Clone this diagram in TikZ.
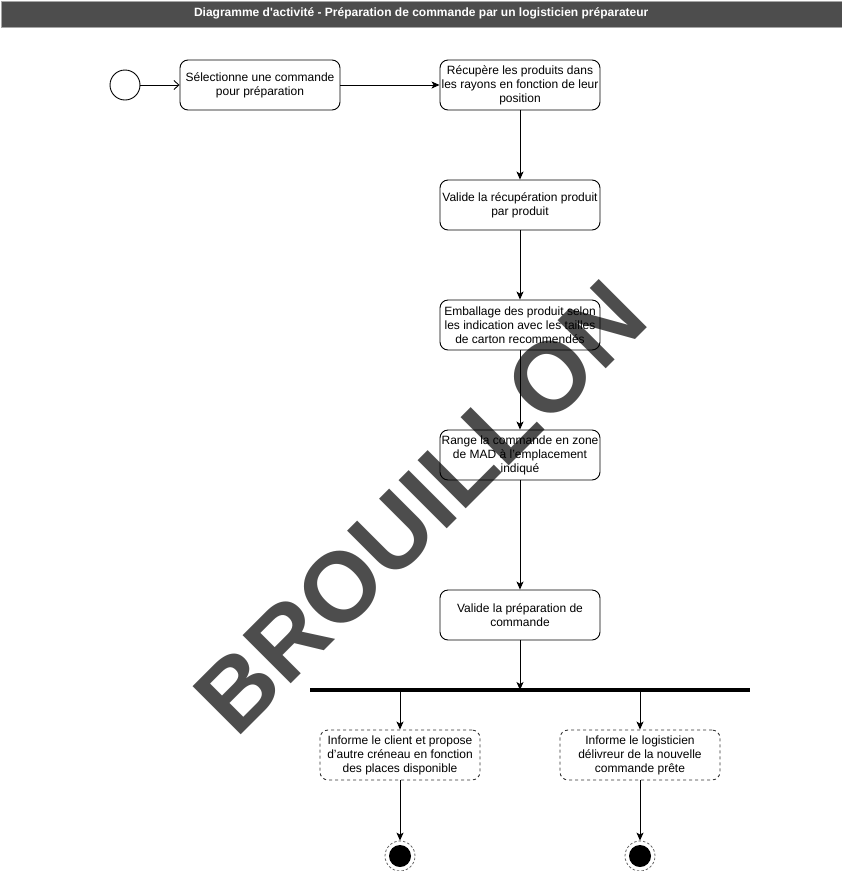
\documentclass[tikz,border=0pt]{standalone}
\usepackage{fontspec}
\setmainfont{Liberation Sans}
\newfontfamily\titlefont{Liberation Sans}
\usetikzlibrary{arrows.meta}
\definecolor{wm}{HTML}{4D4D4D}
\tikzset{
  act/.style={draw=black, line width=0.9pt, rounded corners=8pt, minimum width=160pt, minimum height=50pt, inner sep=0pt, align=center, font=\fontsize{12}{14}\selectfont},
  actdash/.style={act, draw=black!80, dash pattern=on 3pt off 3pt},
  flow/.style={draw=black, line width=0.9pt, -{Stealth[length=8pt,width=7pt,inset=2pt]}},
  openflow/.style={draw=black, line width=0.9pt, -{Straight Barb[length=5pt,width=9pt]}},
}
\begin{document}
\begin{tikzpicture}[x=1pt,y=-1pt]
\useasboundingbox (0,0) rectangle (842,871);
% title
\node[draw=gray!70, fill=wm, minimum width=841pt, minimum height=26pt, inner sep=0pt, anchor=north west, text=white, font=\titlefont\bfseries\fontsize{12}{14}\selectfont] (title) at (0.5,0.5) {Diagramme d'activité - Préparation de commande par un logisticien préparateur};
% watermark
\node[rotate=45, inner sep=0pt, text=wm, font=\bfseries\fontsize{99}{99}\selectfont] (wmark) at (420,507) {BROUILLON};
% start
\node[draw=black, line width=0.9pt, circle, minimum size=30pt, inner sep=0pt] (start) at (125,85) {};
% actions
\node[act] (a1) at (260,85) {Sélectionne une commande\\pour préparation};
\node[act] (a2) at (520,85) {Récupère les produits dans\\les rayons en fonction de leur\\position};
\node[act] (a3) at (520,205) {Valide la récupération produit\\par produit};
\node[act] (a4) at (520,325) {Emballage des produit selon\\les indication avec les tailles\\de carton recommendés};
\node[act] (a5) at (520,455) {Range la commande en zone\\de MAD à l'emplacement\\indiqué};
\node[act] (a6) at (520,615) {Valide la préparation de\\commande};
% fork
\node[fill=black, minimum width=440pt, minimum height=3.5pt, inner sep=0pt] (fork) at (530,690) {};
\coordinate (f1) at (400,690);
\coordinate (f2) at (640,690);
\coordinate (f0) at (520,690);
\node[actdash] (d1) at (400,755) {Informe le client et propose\\d'autre créneau en fonction\\des places disponible};
\node[actdash] (d2) at (640,755) {Informe le logisticien\\délivreur de la nouvelle\\commande prête};
% ends
\node[draw=black!60, dash pattern=on 2.5pt off 2pt, line width=0.8pt, circle, minimum size=30pt, inner sep=0pt] (e1) at (400,856) {};
\node[fill=black, circle, minimum size=22pt, inner sep=0pt] at (e1) {};
\node[draw=black!60, dash pattern=on 2.5pt off 2pt, line width=0.8pt, circle, minimum size=30pt, inner sep=0pt] (e2) at (640,856) {};
\node[fill=black, circle, minimum size=22pt, inner sep=0pt] at (e2) {};
% connectors
\draw[openflow] (start) -- (a1);
\draw[flow] (a1) -- (a2);
\draw[flow] (a2) -- (a3);
\draw[flow] (a3) -- (a4);
\draw[flow] (a4) -- (a5);
\draw[flow] (a5) -- (a6);
\draw[flow] (a6) -- (f0);
\draw[flow] (f1) -- (d1);
\draw[flow] (f2) -- (d2);
\draw[flow] (d1) -- (e1);
\draw[flow] (d2) -- (e2);
\end{tikzpicture}
\end{document}
